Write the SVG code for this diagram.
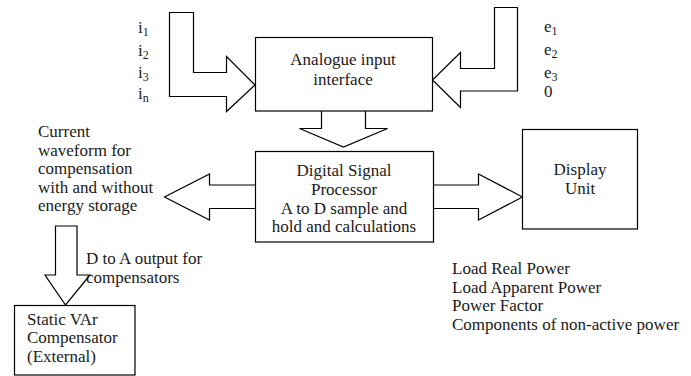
<svg xmlns="http://www.w3.org/2000/svg" width="691" height="376" viewBox="0 0 691 376">
<style>
.s{fill:#fff;stroke:#000;stroke-width:1.2;stroke-linejoin:miter}
text{font-family:"Liberation Serif","Times New Roman",Times,serif;font-size:17px;fill:#1a1a1a}
.c{text-anchor:middle}
.sub{font-size:12px}
</style>
<rect width="691" height="376" fill="#fff"/>
<g id="connectors">
<polygon class="s" points="169.5,12.5 193.5,12.5 193.5,72.5 226.5,72.5 226.5,56.5 255,85 226.5,111.5 226.5,96.5 169.5,96.5"/>
<polygon class="s" points="494.5,7.5 517.5,7.5 517.5,91 460.5,91 460.5,107.5 432.5,80 460.5,52.5 460.5,68.5 494.5,68.5"/>
<polyline class="s" points="321.5,111 321.5,128.5 299.5,128.5 343.5,147 387.5,128.5 365.5,128.5 365.5,111"/>
<polyline class="s" points="433.5,185 478.5,185 478.5,174 522.5,197 478.5,220 478.5,208.5 433.5,208.5"/>
<polyline class="s" points="255.5,185 209.5,185 209.5,174 164.5,197 209.5,220 209.5,208.5 255.5,208.5"/>
<polygon class="s" points="55.5,226 77,226 77,275 90,275 65.5,305 45,275 55.5,275"/>
</g>
<g id="analogue">
<rect class="s" x="255.5" y="37.5" width="177" height="73.5"/>
<text class="c" x="343" y="65">Analogue input</text>
<text class="c" x="343" y="85">interface</text>
</g>
<g id="dsp">
<rect class="s" x="255.5" y="151.5" width="178" height="90.5"/>
<text class="c" x="344" y="176">Digital Signal</text>
<text class="c" x="344" y="195">Processor</text>
<text class="c" x="344" y="213.5">A to D sample and</text>
<text class="c" x="344" y="232">hold and calculations</text>
</g>
<g id="display">
<rect class="s" x="522.5" y="129.5" width="115" height="99.5"/>
<text class="c" x="580" y="175">Display</text>
<text class="c" x="580" y="194">Unit</text>
</g>
<g id="svc">
<rect class="s" x="14.5" y="305.5" width="120.5" height="69.5"/>
<text x="27" y="325">Static VAr</text>
<text x="27" y="343">Compensator</text>
<text x="27" y="361.5">(External)</text>
</g>
<g id="inputs">
<text x="138" y="33">i<tspan class="sub" dy="3">1</tspan></text>
<text x="138" y="56">i<tspan class="sub" dy="3">2</tspan></text>
<text x="138" y="78">i<tspan class="sub" dy="3">3</tspan></text>
<text x="138" y="99">i<tspan class="sub" dy="3">n</tspan></text>
<text x="544" y="32">e<tspan class="sub" dy="3">1</tspan></text>
<text x="544" y="55">e<tspan class="sub" dy="3">2</tspan></text>
<text x="544" y="78">e<tspan class="sub" dy="3">3</tspan></text>
<text x="544" y="97">0</text>
</g>
<g id="labels">
<text x="38" y="137">Current</text>
<text x="38" y="155.5">waveform for</text>
<text x="38" y="174">compensation</text>
<text x="38" y="192.5">with and without</text>
<text x="38" y="211">energy storage</text>
<text x="86" y="264">D to A output for</text>
<text x="86" y="283">compensators</text>
<text x="452" y="274">Load Real Power</text>
<text x="452" y="292.5">Load Apparent Power</text>
<text x="452" y="311">Power Factor</text>
<text x="452" y="330">Components of non-active power</text>
</g>
</svg>
